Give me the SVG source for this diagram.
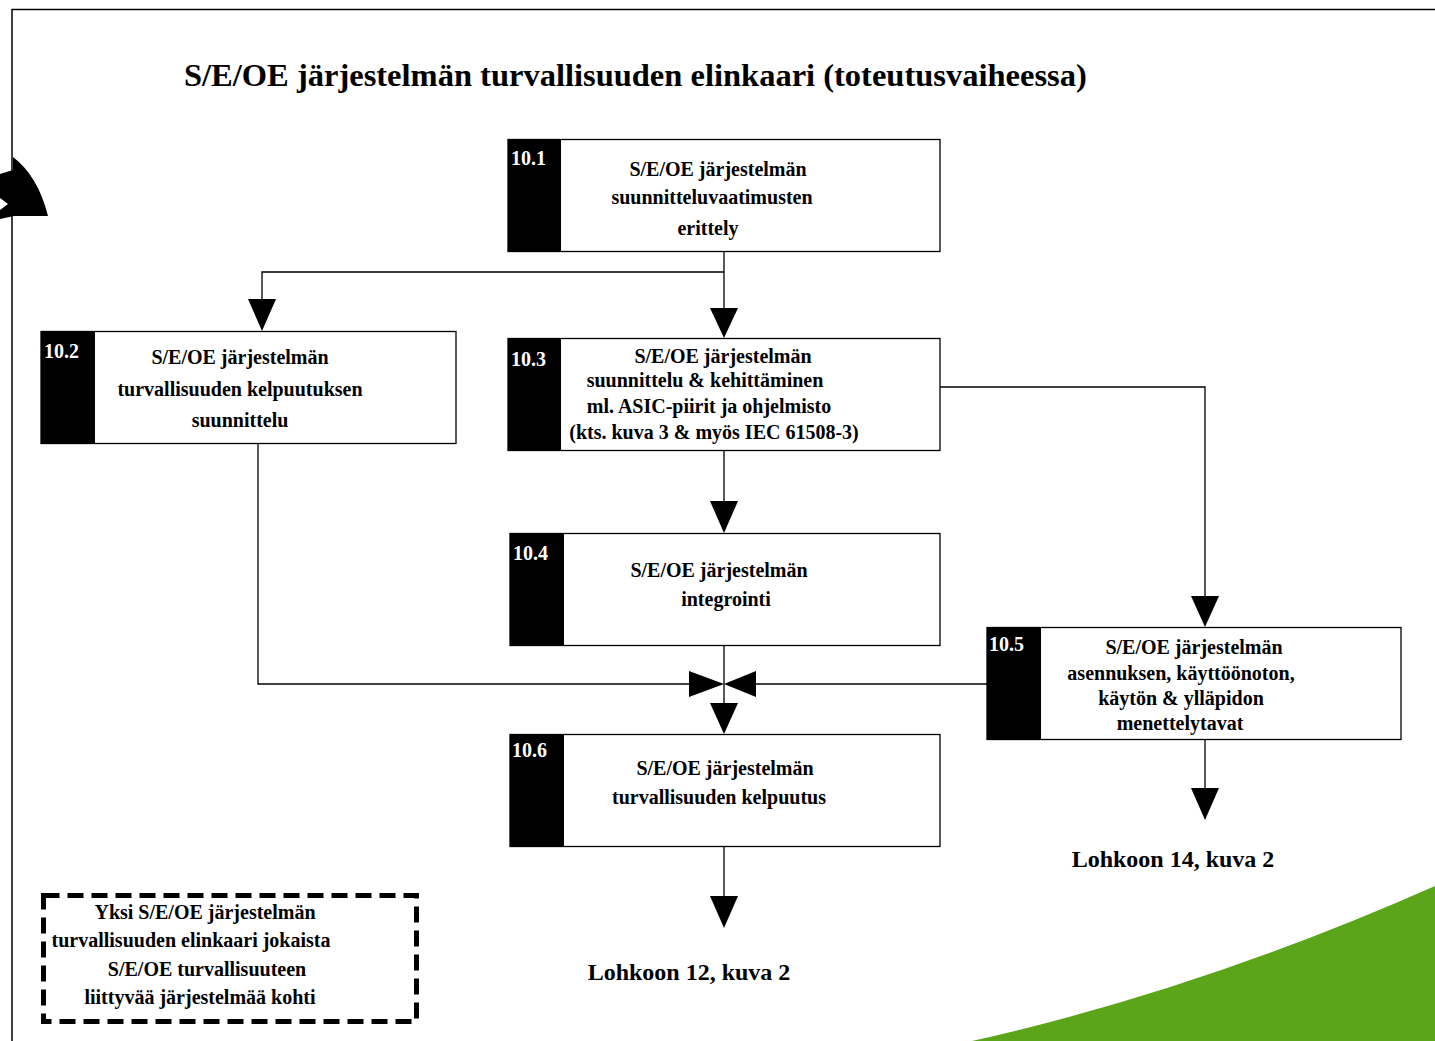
<svg xmlns="http://www.w3.org/2000/svg" width="1435" height="1041" viewBox="0 0 1435 1041">
  <style>
    text { font-family: "Liberation Serif", "Times New Roman", serif; font-weight: bold; fill: #000; }
    .title { font-size: 32.5px; }
    .lbl { font-size: 20px; text-anchor: middle; }
    .num { font-size: 20px; fill: #fff; }
    .out { font-size: 24px; text-anchor: middle; }
    .box { fill: #fff; stroke: #000; stroke-width: 1.3; }
    .tab { fill: #000; }
    .wire { fill: none; stroke: #000; stroke-width: 1.3; }
    .head { fill: #000; }
  </style>

  <!-- page frame -->
  <path d="M12,1041 V9.5 H1435" fill="none" stroke="#000" stroke-width="1.5"/>

  <!-- curved arrow on the left edge -->
  <path d="M0,174 L13,170 L13,157 Q38,176 48,216 L14,216 L0,219 L0,210 L8,204 L0,198 Z" fill="#000"/>

  <!-- green swoosh -->
  <path d="M972,1041 Q1200,990 1435,886 L1435,1041 Z" fill="#5aa51a"/>

  <text class="title" x="184" y="86">S/E/OE järjestelmän turvallisuuden elinkaari (toteutusvaiheessa)</text>

  <!-- connectors -->
  <g id="connectors">
    <path class="wire" d="M724,251 V310 M724,272 H262 V300"/>
    <polygon class="head" points="248,299 276,299 262,331"/>
    <polygon class="head" points="710,308 738,308 724,338"/>
    <path class="wire" d="M940,387 H1205 V598"/>
    <polygon class="head" points="1191,596 1219,596 1205,627"/>
    <path class="wire" d="M724,450 V503"/>
    <polygon class="head" points="710,501 738,501 724,533"/>
    <path class="wire" d="M724,645 V706"/>
    <polygon class="head" points="710,703 738,703 724,734"/>
    <path class="wire" d="M258,443 V684 H692"/>
    <polygon class="head" points="689,671 689,697 724,684"/>
    <path class="wire" d="M987,684 H756"/>
    <polygon class="head" points="756,671 756,697 724,684"/>
    <path class="wire" d="M724,846 V898"/>
    <polygon class="head" points="710,896 738,896 724,928"/>
    <path class="wire" d="M1205,739 V790"/>
    <polygon class="head" points="1191,788 1219,788 1205,820"/>
  </g>

  <g id="n10_1">
    <rect class="box" x="508" y="139.5" width="432" height="112"/>
    <rect class="tab" x="508" y="139.5" width="53" height="112"/>
    <text class="num" x="511" y="165">10.1</text>
    <text class="lbl" x="718" y="176">S/E/OE järjestelmän</text>
    <text class="lbl" x="712" y="204">suunnitteluvaatimusten</text>
    <text class="lbl" x="708" y="235">erittely</text>
  </g>

  <g id="n10_2">
    <rect class="box" x="41" y="331.5" width="415" height="112"/>
    <rect class="tab" x="41" y="331.5" width="54" height="112"/>
    <text class="num" x="44" y="358">10.2</text>
    <text class="lbl" x="240" y="364">S/E/OE järjestelmän</text>
    <text class="lbl" x="240" y="396">turvallisuuden kelpuutuksen</text>
    <text class="lbl" x="240" y="427">suunnittelu</text>
  </g>

  <g id="n10_3">
    <rect class="box" x="508" y="338.5" width="432" height="112"/>
    <rect class="tab" x="508" y="338.5" width="53" height="112"/>
    <text class="num" x="511" y="366">10.3</text>
    <text class="lbl" x="723" y="363">S/E/OE järjestelmän</text>
    <text class="lbl" x="705" y="387">suunnittelu &amp; kehittäminen</text>
    <text class="lbl" x="709" y="413">ml. ASIC-piirit ja ohjelmisto</text>
    <text class="lbl" x="714" y="439">(kts. kuva 3 &amp; myös IEC 61508-3)</text>
  </g>

  <g id="n10_4">
    <rect class="box" x="510" y="533.5" width="430" height="112"/>
    <rect class="tab" x="510" y="533.5" width="54" height="112"/>
    <text class="num" x="513" y="560">10.4</text>
    <text class="lbl" x="719" y="577">S/E/OE järjestelmän</text>
    <text class="lbl" x="726" y="606">integrointi</text>
  </g>

  <g id="n10_5">
    <rect class="box" x="987" y="627.5" width="414" height="112"/>
    <rect class="tab" x="987" y="627.5" width="54" height="112"/>
    <text class="num" x="989" y="651">10.5</text>
    <text class="lbl" x="1194" y="654">S/E/OE järjestelmän</text>
    <text class="lbl" x="1181" y="680">asennuksen, käyttöönoton,</text>
    <text class="lbl" x="1181" y="705">käytön &amp; ylläpidon</text>
    <text class="lbl" x="1180" y="730">menettelytavat</text>
  </g>

  <g id="n10_6">
    <rect class="box" x="510" y="734.5" width="430" height="112"/>
    <rect class="tab" x="510" y="734.5" width="54" height="112"/>
    <text class="num" x="512" y="757">10.6</text>
    <text class="lbl" x="725" y="775">S/E/OE järjestelmän</text>
    <text class="lbl" x="719" y="804">turvallisuuden kelpuutus</text>
  </g>

  <g id="out12">
    <text class="out" x="689" y="980">Lohkoon 12, kuva 2</text>
  </g>
  <g id="out14">
    <text class="out" x="1173" y="867">Lohkoon 14, kuva 2</text>
  </g>

  <g id="note">
    <rect x="43.5" y="895.5" width="373" height="126" fill="none" stroke="#000" stroke-width="5" stroke-dasharray="16 8"/>
    <text class="lbl" x="205" y="919">Yksi S/E/OE järjestelmän</text>
    <text class="lbl" x="191" y="947">turvallisuuden elinkaari jokaista</text>
    <text class="lbl" x="207" y="976">S/E/OE turvallisuuteen</text>
    <text class="lbl" x="200" y="1004">liittyvää järjestelmää kohti</text>
  </g>
</svg>
